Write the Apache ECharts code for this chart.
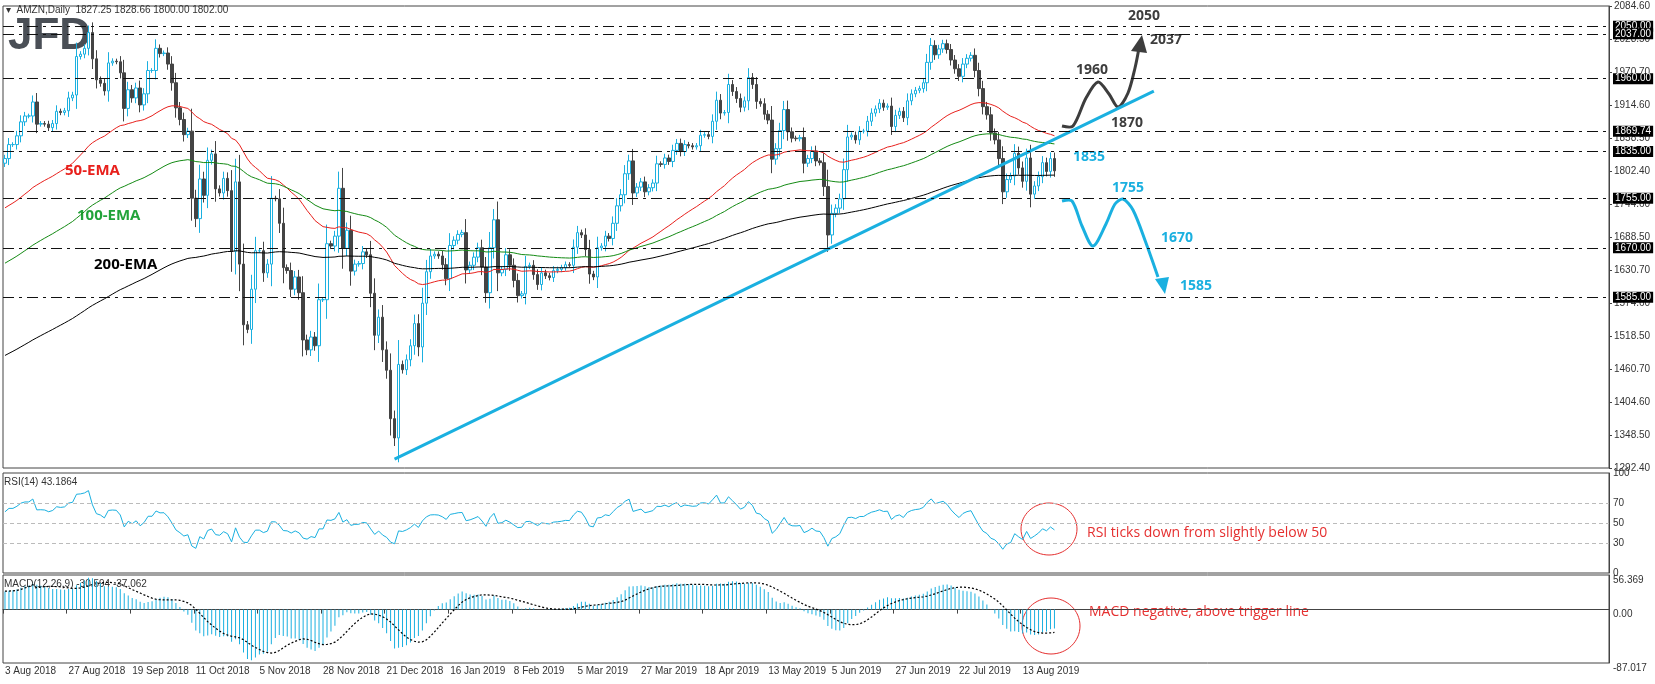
<!DOCTYPE html>
<html>
<head>
<meta charset="utf-8">
<script src="https://cdn.jsdelivr.net/npm/echarts@6/dist/echarts.min.js"></script>
<style>html,body{margin:0;padding:0;background:#fff}#main{width:1655px;height:684px}</style>
</head>
<body>
<div id="main"></div>
<script>
// daily closes, 3 Aug 2018 .. 22 Aug 2019
var closes = [
 1823,1847,1847,1862,1886,1896,1896,1920,1882,1883,1882,1876,1883,1904,1902,1905,1927,1932,1998,2002,2012,
 2039,1994,1958,1952,1939,1987,1990,1989,1970,1909,1941,1927,1944,1915,1934,1974,1974,2012,2003,
 2004,1985,1953,1910,1890,1864,1870,1755,1720,1788,1760,1820,1831,1771,1764,1789,1768,1664,1783,1642,1538,1530,1599,
 1665,1665,1627,1642,1755,1754,1712,1636,1631,1599,1620,1593,1512,1495,1517,1502,1581,1581,1677,1673,1690,
 1772,1669,1700,1630,1642,1643,1663,1658,1592,1520,1551,1495,1460,1377,1344,1470,1461,1478,1502,
 1540,1500,1575,1629,1656,1659,1656,1641,1617,1674,1683,1693,1696,1632,1640,1654,1670,1637,1593,1670,1718,
 1627,1633,1658,1640,1614,1588,1591,1638,1640,1624,1607,1627,1622,1619,1631,1633,1636,1641,1640,
 1671,1696,1692,1667,1625,1620,1670,1673,1690,1686,1712,1742,1761,1797,1819,1764,1774,1783,1766,1773,1781,
 1814,1813,1824,1818,1837,1849,1835,1847,1845,1843,1845,1863,1864,1861,1887,1923,1901,1902,1950,1938,1926,
 1911,1922,1962,1950,1921,1917,1899,1889,1822,1840,1871,1907,1869,1858,1857,1859,1815,1823,1836,1819,1816,1775,
 1692,1729,1738,1754,1804,1860,1863,1855,1870,1870,1887,1901,1908,1918,1911,1913,1878,1897,1904,1893,
 1922,1934,1940,1943,1953,1988,2017,2001,2011,2020,2010,1992,1977,1964,1985,1995,2000,1974,1943,1912,1898,1867,
 1855,1823,1766,1787,1793,1832,1807,1784,1824,1762,1776,1792,1816,1801,1823,1802
];
var firstOpen = 1815;
var levels = [2050, 2037, 1960, 1869.74, 1835, 1755, 1670, 1585];
var lastPrice = 1802.00;
var priceTicks = ['1292.40','1348.50','1404.60','1460.70','1518.50','1574.60','1630.70','1688.50',
  '1744.60','1802.40','1858.50','1914.60','1970.70','2028.50','2084.60'];
var dateLabels = ['3 Aug 2018','27 Aug 2018','19 Sep 2018','11 Oct 2018','5 Nov 2018','28 Nov 2018',
  '21 Dec 2018','16 Jan 2019','8 Feb 2019','5 Mar 2019','27 Mar 2019','18 Apr 2019','13 May 2019',
  '5 Jun 2019','27 Jun 2019','22 Jul 2019','13 Aug 2019'];
var trendPts = [[98, 1307.7], [289, 1938.8]];
var emaSeeds = {50: 1735, 100: 1640, 200: 1482};

var SLOTS = 404;
var cats = [];
for (var i = 0; i < SLOTS; i++) cats.push(i);

// candles: open = previous close
var candles = closes.map(function (c, i) {
  var o = i === 0 ? firstOpen : closes[i - 1];
  var body = Math.abs(c - o);
  return [o, c, Math.min(o, c) - body * 0.3 - 4, Math.max(o, c) + body * 0.3 + 4];
});

function ema(n, seed) {
  var k = 2 / (n + 1), e = seed;
  return closes.map(function (c) { e = e + k * (c - e); return +e.toFixed(2); });
}
// RSI(14), Wilder
var rsi = (function () {
  var ag = 12, al = 8, out = [];
  closes.forEach(function (c, i) {
    var d = i === 0 ? c - firstOpen : c - closes[i - 1];
    ag = (ag * 13 + Math.max(d, 0)) / 14;
    al = (al * 13 + Math.max(-d, 0)) / 14;
    out.push(+(100 - 100 / (1 + ag / al)).toFixed(2));
  });
  return out;
})();
// MACD(12,26,9), SMA signal
var macd = [], signal = [];
(function () {
  var e12 = 1800, e26 = 1770, hist = [];
  closes.forEach(function (c) {
    e12 += 2 / 13 * (c - e12);
    e26 += 2 / 27 * (c - e26);
    var m = e12 - e26;
    macd.push(+m.toFixed(3));
    hist.push(m);
    var w = hist.slice(-9);
    var s = w.length < 9 ? 30 + (m - 30) * w.length / 9 : w.reduce(function (a, b) { return a + b; }, 0) / 9;
    signal.push(+s.toFixed(3));
  });
})();

var FONT = 'Liberation Sans';
var BLUE = '#1ab0e0';
var axisTxt = {color: '#333', fontSize: 10, fontFamily: FONT};

var levelLines = levels.map(function (v) {
  return {yAxis: v, label: {formatter: v.toFixed(2)}};
});
levelLines.push({yAxis: lastPrice, lineStyle: {opacity: 0},
  label: {formatter: lastPrice.toFixed(2), backgroundColor: '#555'}});

var myChart = echarts.init(document.getElementById('main'));
var step = (2084.6 - 1292.4) / 14;

option = {
  backgroundColor: '#fff',
  animation: false,
  grid: [
    {left: 3, right: 46, top: 6, height: 462, show: true, borderColor: '#444', borderWidth: 1},
    {left: 3, right: 46, top: 473, height: 100, show: true, borderColor: '#444', borderWidth: 1},
    {left: 3, right: 46, top: 575, height: 88, show: true, borderColor: '#444', borderWidth: 1}
  ],
  xAxis: [0, 1, 2].map(function (g) {
    return {
      type: 'category', gridIndex: g, data: cats, boundaryGap: true,
      axisLine: {show: g === 2, lineStyle: {color: '#444'}},
      axisTick: {show: g === 2, length: 4, lineStyle: {color: '#444'},
        interval: function (i) { return i % 16 === 0 && i <= 256; }},
      axisLabel: {show: g === 2, interval: function (i) { return i % 16 === 0 && i <= 256; },
        formatter: function (v, i) { return dateLabels[i / 16] || ''; },
        align: 'left', margin: 3, color: '#333', fontSize: 10, fontFamily: FONT},
      splitLine: {show: false}
    };
  }),
  yAxis: [
    {type: 'value', gridIndex: 0, position: 'right', min: 1292.4, max: 2084.6, interval: step,
      axisLine: {show: true, lineStyle: {color: '#444'}}, axisTick: {show: true, length: 3},
      axisLabel: Object.assign({margin: 5, formatter: function (v) {
        return priceTicks[Math.round((v - 1292.4) / step)] || ''; }}, axisTxt),
      splitLine: {show: false}},
    {type: 'value', gridIndex: 1, position: 'right', min: 0, max: 100, interval: 10,
      axisLine: {show: true, lineStyle: {color: '#444'}}, axisTick: {show: false},
      axisLabel: Object.assign({margin: 4, formatter: function (v) {
        return [0, 30, 50, 70, 100].indexOf(v) >= 0 ? String(v) : ''; }}, axisTxt),
      splitLine: {show: false}},
    {type: 'value', gridIndex: 2, position: 'right', min: -87.017, max: 56.369, interval: 87.017,
      axisLine: {show: true, lineStyle: {color: '#444'}}, axisTick: {show: false},
      axisLabel: Object.assign({margin: 4, showMaxLabel: true, verticalAlign: 'top', formatter: function (v) {
        return Math.abs(v) < 0.001 ? '0.00' : v.toFixed(3); }}, axisTxt),
      splitLine: {show: false}}
  ],
  series: [
    {type: 'candlestick', xAxisIndex: 0, yAxisIndex: 0, data: candles, barWidth: 3,
      itemStyle: {color: '#fff', borderColor: BLUE, color0: '#444', borderColor0: '#444', borderWidth: 1},
      markLine: {silent: true, symbol: 'none', z: 10,
        lineStyle: {color: '#111', width: 1, type: [11, 5, 3, 5]},
        label: {position: 'end', distance: 4, color: '#fff', backgroundColor: '#000',
          padding: [1, 2, 0, 2], fontSize: 10, fontFamily: FONT},
        data: levelLines}},
    {type: 'line', xAxisIndex: 0, yAxisIndex: 0, data: ema(50, emaSeeds[50]), symbol: 'none',
      lineStyle: {color: '#e8201c', width: 1}},
    {type: 'line', xAxisIndex: 0, yAxisIndex: 0, data: ema(100, emaSeeds[100]), symbol: 'none',
      lineStyle: {color: '#138a13', width: 1}},
    {type: 'line', xAxisIndex: 0, yAxisIndex: 0, data: ema(200, emaSeeds[200]), symbol: 'none',
      lineStyle: {color: '#000', width: 1}},
    {type: 'line', xAxisIndex: 0, yAxisIndex: 0, data: trendPts, symbol: 'none',
      lineStyle: {color: BLUE, width: 3}},
    {type: 'line', xAxisIndex: 1, yAxisIndex: 1, data: rsi, symbol: 'none',
      lineStyle: {color: BLUE, width: 1},
      markLine: {silent: true, symbol: 'none', label: {show: false},
        lineStyle: {color: '#bbb', type: [4, 3], width: 1},
        data: [{yAxis: 70}, {yAxis: 50}, {yAxis: 30}]}},
    {type: 'bar', xAxisIndex: 2, yAxisIndex: 2, data: macd, barWidth: 1,
      itemStyle: {color: BLUE}},
    {type: 'line', xAxisIndex: 2, yAxisIndex: 2, data: signal, symbol: 'none',
      lineStyle: {color: '#000', width: 1.2, type: [2, 2]}}
  ],
  graphic: [
    {type: 'text', left: 6, top: 5, style: {text: '\u25BE  AMZN,Daily  1827.25 1828.66 1800.00 1802.00',
      fill: '#333', font: '10px "Liberation Sans"'}},
    {type: 'text', left: 8, top: 15, style: {text: 'JFD', fill: '#4a4f56', font: 'bold 44px "Liberation Sans"'}},
    {type: 'text', left: 65, top: 163, style: {text: '50-EMA', fill: '#e8201c', font: 'bold 15px "Open Sans"'}},
    {type: 'text', left: 77, top: 208, style: {text: '100-EMA', fill: '#22a33a', font: 'bold 15px "Open Sans"'}},
    {type: 'text', left: 94, top: 257, style: {text: '200-EMA', fill: '#000', font: 'bold 15px "Open Sans"'}},
    {type: 'text', left: 4, top: 477, style: {text: 'RSI(14) 43.1864', fill: '#333', font: '10px "Liberation Sans"'}},
    {type: 'text', left: 4, top: 579, style: {text: 'MACD(12,26,9) -30.594 -37.062', fill: '#333', font: '10px "Liberation Sans"'}},
    // scenario paths
    {type: 'polyline', shape: {points: [[1062,126],[1073,126],[1086,98],[1098,82],[1109,94],[1118,107],[1128,93],[1135,68],[1139,48]], smooth: 0.3},
      style: {stroke: '#3d3d3d', lineWidth: 3, fill: null}},
    {type: 'polygon', shape: {points: [[1142,35],[1131,51],[1147,53]]}, style: {fill: '#3d3d3d'}},
    {type: 'polyline', shape: {points: [[1062,201],[1072,201],[1082,226],[1093,246],[1106,224],[1115,204],[1123,199],[1133,210],[1146,243],[1158,277]], smooth: 0.3},
      style: {stroke: BLUE, lineWidth: 3, fill: null}},
    {type: 'polygon', shape: {points: [[1165,294],[1155,279],[1169,277]]}, style: {fill: BLUE}},
    {type: 'text', left: 1076, top: 63, style: {text: '1960', fill: '#3d3d3d', font: 'bold 14px "Open Sans"'}},
    {type: 'text', left: 1128, top: 9, style: {text: '2050', fill: '#3d3d3d', font: 'bold 14px "Open Sans"'}},
    {type: 'text', left: 1150, top: 33, style: {text: '2037', fill: '#3d3d3d', font: 'bold 14px "Open Sans"'}},
    {type: 'text', left: 1111, top: 116, style: {text: '1870', fill: '#3d3d3d', font: 'bold 14px "Open Sans"'}},
    {type: 'text', left: 1073, top: 150, style: {text: '1835', fill: BLUE, font: 'bold 14px "Open Sans"'}},
    {type: 'text', left: 1112, top: 181, style: {text: '1755', fill: BLUE, font: 'bold 14px "Open Sans"'}},
    {type: 'text', left: 1161, top: 231, style: {text: '1670', fill: BLUE, font: 'bold 14px "Open Sans"'}},
    {type: 'text', left: 1180, top: 279, style: {text: '1585', fill: BLUE, font: 'bold 14px "Open Sans"'}},
    {type: 'ellipse', shape: {cx: 1049, cy: 529, rx: 28, ry: 26}, style: {stroke: '#e53030', fill: null, lineWidth: 1}},
    {type: 'ellipse', shape: {cx: 1051, cy: 626, rx: 29, ry: 28}, style: {stroke: '#e53030', fill: null, lineWidth: 1}},
    {type: 'text', left: 1087, top: 526, style: {text: 'RSI ticks down from slightly below 50', fill: '#e53030', font: '14px "Open Sans"'}},
    {type: 'text', left: 1089, top: 605, style: {text: 'MACD negative, above trigger line', fill: '#e53030', font: '14px "Open Sans"'}}
  ]
};
myChart.setOption(option);
</script>
</body>
</html>
